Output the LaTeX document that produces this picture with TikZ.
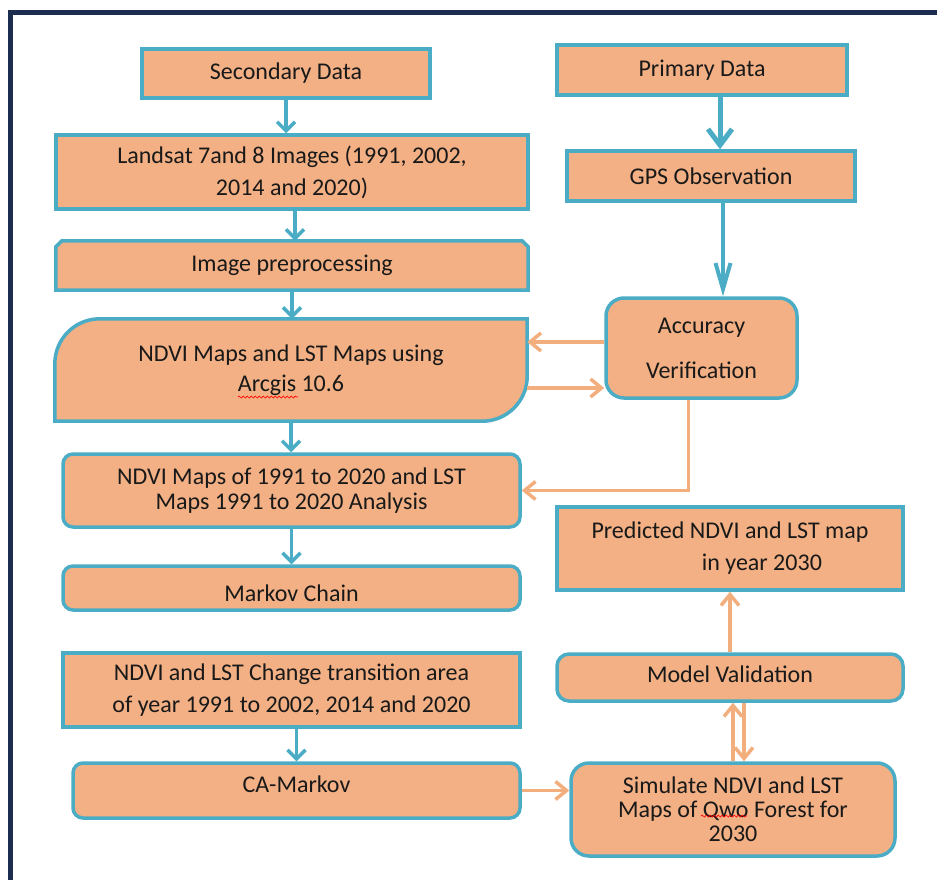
\documentclass[tikz,border=0pt]{standalone}
\usepackage{fontspec}
\setmainfont{Carlito}
\usetikzlibrary{arrows.meta,backgrounds,decorations.pathmorphing,calc}
\definecolor{bfill}{RGB}{242,176,132}
\definecolor{bblue}{RGB}{75,172,198}
\definecolor{oarr}{RGB}{243,174,126}
\definecolor{navy}{RGB}{28,45,80}
\definecolor{tcol}{RGB}{25,25,25}
\tikzset{
  box/.style={draw=bblue, line width=3.5pt, fill=bfill, text=tcol, inner sep=0pt, align=center,
    font=\fontsize{24}{32}\selectfont},
  rbox/.style={box, rounded corners=10pt},
  plainbox/.style={inner sep=0pt, text=tcol, align=center, font=\fontsize{24}{32}\selectfont},
  boxline/.style={draw=bblue, line width=3.5pt, fill=bfill},
  barrow/.style={draw=bblue, line width=3.5pt, -{Straight Barb[length=9pt,width=18pt]}},
  bigarrow/.style={draw=bblue, line width=5pt, -{Straight Barb[length=16pt,width=24pt]}},
  longarrow/.style={draw=bblue, line width=4pt, -{Straight Barb[length=26pt,width=15pt]}},
  oarrow/.style={draw=oarr, line width=3.5pt, -{Straight Barb[length=11pt,width=18pt]}},
  squig/.style={draw=red, line width=0.7pt, decorate, decoration={snake, amplitude=1pt, segment length=4pt}},
}
\begin{document}
\begin{tikzpicture}[x=1pt,y=-1pt]
\useasboundingbox (0,0) rectangle (937,880);
\clip (0,0) rectangle (937,880);
\draw[navy, line width=5pt] (10,13) rectangle (1000,950);

% left column
\node[box, minimum width=288pt, minimum height=49pt] (sec) at (286,73.5) {Secondary Data};
\node[box, minimum width=472pt, minimum height=74pt] (lands) at (292,172) {Landsat 7and 8 Images (1991, 2002,\\ 2014 and 2020)};
\node[plainbox, minimum width=472pt, minimum height=49pt] (imgp) at (292,265.5) {Image preprocessing};
\node[plainbox, minimum width=472pt, minimum height=102pt, font=\fontsize{24}{30}\selectfont] (ndvi) at (291,370) {NDVI Maps and LST Maps using\\ Arcgis 10.6};
\node[rbox, minimum width=457pt, minimum height=73pt, font=\fontsize{24}{25}\selectfont] (n91) at (291.5,490.5) {NDVI Maps of 1991 to 2020 and LST\\ Maps 1991 to 2020 Analysis};
\node[rbox, minimum width=457pt, minimum height=44pt] (mc) at (291.5,588) {\raisebox{-5pt}[\height][\depth]{Markov Chain}};
\node[box, minimum width=457pt, minimum height=74pt] (chg) at (291.5,690) {NDVI and LST Change transition area\\ of year 1991 to 2002, 2014 and 2020};
\node[rbox, minimum width=447pt, minimum height=55pt] (ca) at (296.5,790.5) {\raisebox{6pt}[\height][\depth]{CA-Markov}};

% right column
\node[box, minimum width=290pt, minimum height=50pt] (prim) at (702,70) {Primary Data};
\node[box, minimum width=288pt, minimum height=50pt] (gps) at (711,176) {GPS Observation};
\node[box, rounded corners=18pt, minimum width=191pt, minimum height=100pt, font=\fontsize{24}{45}\selectfont] (acc) at (701.5,348) {Accuracy\\ Verification};
\node[box, minimum width=346pt, minimum height=83pt, align=left] (pred) at (730,548.5) {Predicted NDVI and LST map\\ \hspace*{4.6em}in year 2030};
\node[box, rounded corners=12pt, minimum width=346pt, minimum height=47pt] (mv) at (730,677.5) {\raisebox{3pt}[\height][\depth]{Model Validation}};
\node[box, rounded corners=18pt, minimum width=324pt, minimum height=93pt, font=\fontsize{24}{24}\selectfont] (sim) at (733,809.5) {Simulate NDVI and LST\\ Maps of Qwo Forest for\\ 2030};

% special shapes behind text
\begin{scope}[on background layer]
\draw[boxline] (imgp.south west) -- ([yshift=-6pt]imgp.north west) -- ([xshift=6pt]imgp.north west)
  -- ([xshift=-6pt]imgp.north east) -- ([yshift=-6pt]imgp.north east) -- (imgp.south east) -- cycle;
\draw[boxline] (ndvi.north east) -- ([yshift=45pt]ndvi.south east) arc[start angle=0,end angle=-90,radius=45pt]
  -- (ndvi.south west) -- ([yshift=-45pt]ndvi.north west) arc[start angle=180,end angle=90,radius=45pt] -- cycle;
\end{scope}

% spelling squiggles
\draw[squig] (238,397) -- (298,397);
\draw[squig] (701,816) -- (747,816);

% blue connectors
\draw[barrow] (sec.south) -- (sec.south |- lands.north);
\draw[barrow] ([xshift=3pt]lands.south) -- ([xshift=3pt]lands.south |- imgp.north);
\draw[barrow] (imgp.south) -- (imgp.south |- ndvi.north);
\draw[barrow] (ndvi.south) -- (ndvi.south |- n91.north);
\draw[barrow] (n91.south) -- (n91.south |- mc.north);
\draw[barrow] (ca.north |- chg.south) -- (ca.north);
\draw[bigarrow] ([xshift=18pt]prim.south) -- ([xshift=18pt]prim.south |- gps.north);
\draw[longarrow] ([xshift=12pt]gps.south) -- ([xshift=12pt]gps.south |- acc.north);

% orange connectors
\draw[oarrow] ([yshift=6pt]acc.west) -- ([yshift=6pt]acc.west -| ndvi.east);
\draw[oarrow] ([yshift=-18pt]ndvi.east) -- ([yshift=-18pt]ndvi.east -| acc.west);
\draw[oarrow] ([xshift=-13pt]acc.south) |- (n91.east);
\draw[oarrow] (ca.east) -- (ca.east -| sim.west);
\draw[oarrow] (sim.north) -- (sim.north |- mv.south);
\draw[oarrow] ([xshift=14pt]mv.south) -- ([xshift=14pt]mv.south |- sim.north);
\draw[oarrow] (mv.north) -- (mv.north |- pred.south);
\end{tikzpicture}
\end{document}
